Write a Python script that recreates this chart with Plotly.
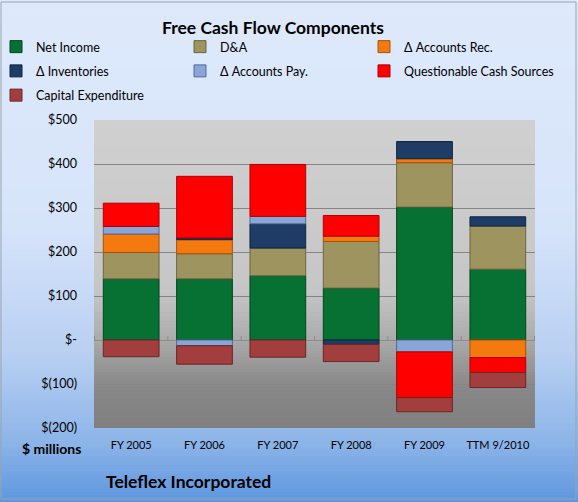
import plotly.graph_objects as go

categories = ["FY 2005", "FY 2006", "FY 2007", "FY 2008", "FY 2009", "TTM 9/2010"]
net_income = [139, 139, 146, 118, 302, 161]
d_and_a = [60, 57, 63, 106, 101, 98]
accounts_rec = [42, 32, None, 12, 9, -40]
inventories = [None, 4, 55, -10, 39, 21]
accounts_pay = [17, -13, 17, None, -27, None]
questionable = [53, 140, 118, 47, -104, -34]
capex = [-38, -42, -39, -39, -32, -34]

y_tickvals = [500, 400, 300, 200, 100, 0, -100, -200]
y_ticktext = ["$500", "$400", "$300", "$200", "$100", "$-", "$(100)", "$(200)"]

W, H = 578, 502
L, R, T, B = 94, 43, 120, 74
PW, PH = W - L - R, H - T - B

def px2x(px):
    return (px - L) / PW

def py2y(py):
    return (H - B - py) / PH

def lerp_color(stops, f):
    for i in range(len(stops) - 1):
        f0, c0 = stops[i]
        f1, c1 = stops[i + 1]
        if f0 <= f <= f1:
            t = 0 if f1 == f0 else (f - f0) / (f1 - f0)
            c = [round(c0[k] + (c1[k] - c0[k]) * t) for k in range(3)]
            return "rgb(%d,%d,%d)" % tuple(c)
    c = stops[-1][1]
    return "rgb(%d,%d,%d)" % tuple(c)

font_family = "Lato, 'Open Sans', sans-serif"

series = [
    ("Net Income", net_income, "#077033", "#03451e", "legend", 0),
    ("D&A", d_and_a, "#9d945f", "#6b6540", "legend2", 0),
    ("\u0394 Accounts Rec.", accounts_rec, "#f47a10", "#a85008", "legend3", 0),
    ("\u0394 Inventories", inventories, "#1e3c66", "#10243f", "legend", 1),
    ("\u0394 Accounts Pay.", accounts_pay, "#8aa6d8", "#4f6a99", "legend2", 1),
    ("Questionable Cash Sources", questionable, "#ff0000", "#b00000", "legend3", 1),
    ("Capital Expenditure", capex, "#a23e3e", "#6b2626", "legend", 2),
]

fig = go.Figure()
for name, vals, fill, edge, leg, rank in series:
    fig.add_trace(go.Bar(
        x=categories, y=vals, name=name,
        marker=dict(color=fill, line=dict(color=edge, width=1)),
        legend=leg, legendgroup=name, legendrank=rank,
    ))

shapes = []
# outer gradient background
outer_stops = [(0.0, (222, 233, 251)), (0.45, (214, 228, 250)), (0.7, (185, 208, 242)),
               (0.88, (140, 180, 232)), (1.0, (92, 150, 222))]
step = 3
for py in range(0, H, step):
    f = py / H
    shapes.append(dict(type="rect", xref="paper", yref="paper", layer="below",
                       x0=px2x(0), x1=px2x(W), y0=py2y(py + step + 0.5), y1=py2y(py),
                       fillcolor=lerp_color(outer_stops, f), line=dict(width=0)))
# plot area gradient
plot_stops = [(0.0, (208, 208, 208)), (0.55, (198, 198, 198)), (0.7, (172, 172, 172)),
              (0.86, (136, 136, 136)), (1.0, (127, 127, 127))]
for py in range(T, H - B, step):
    f = (py - T) / PH
    y1 = py2y(py)
    y0 = max(py2y(py + step + 0.5), 0)
    shapes.append(dict(type="rect", xref="paper", yref="paper", layer="below",
                       x0=0, x1=1, y0=y0, y1=y1,
                       fillcolor=lerp_color(plot_stops, f), line=dict(width=0)))
# outer border
shapes.append(dict(type="rect", xref="paper", yref="paper", layer="below",
                   x0=px2x(1), x1=px2x(576), y0=py2y(499), y1=py2y(2),
                   fillcolor="rgba(0,0,0,0)", line=dict(color="#9aa3ad", width=1)))
# category boundary ticks on the zero line
for i in range(len(categories) + 1):
    shapes.append(dict(type="line", xref="x", yref="y", layer="below",
                       x0=i - 0.5, x1=i - 0.5, y0=0, y1=9,
                       line=dict(color="#8c8c8c", width=1)))

legend_common = dict(xanchor="left", yanchor="top", orientation="v", tracegroupgap=5,
                     bgcolor="rgba(0,0,0,0)", font=dict(size=12.5),
                     itemclick=False, itemdoubleclick=False)

fig.update_layout(
    width=W, height=H,
    margin=dict(l=L, r=R, t=T, b=B, pad=0, autoexpand=False),
    paper_bgcolor="rgba(0,0,0,0)",
    plot_bgcolor="rgba(0,0,0,0)",
    barmode="relative",
    bargap=0.24,
    shapes=shapes,
    font=dict(family=font_family, size=12, color="#000000"),
    xaxis=dict(showgrid=False, showline=False, ticks="", tickfont=dict(size=11),
               ticklabelstandoff=9, fixedrange=True),
    yaxis=dict(range=[-200, 500], tickvals=y_tickvals, ticktext=y_ticktext,
               showgrid=True, gridcolor="#858585", gridwidth=1,
               zeroline=True, zerolinecolor="#8c8c8c", zerolinewidth=1,
               showline=False, ticks="", tickfont=dict(size=12.5),
               ticklabelstandoff=16, fixedrange=True),
    legend=dict(x=px2x(-4), y=py2y(32), **legend_common),
    legend2=dict(x=px2x(180), y=py2y(32), **legend_common),
    legend3=dict(x=px2x(364), y=py2y(32), **legend_common),
    annotations=[
        dict(text="<b>Free Cash Flow Components</b>", xref="paper", yref="paper",
             x=px2x(273), y=py2y(27), xanchor="center", yanchor="middle",
             showarrow=False, font=dict(size=17.5)),
        dict(text="<b>$ millions</b>", xref="paper", yref="paper",
             x=px2x(51), y=py2y(448), xanchor="center", yanchor="middle",
             showarrow=False, font=dict(size=14)),
        dict(text="<b>Teleflex Incorporated</b>", xref="paper", yref="paper",
             x=px2x(188), y=py2y(481), xanchor="center", yanchor="middle",
             showarrow=False, font=dict(size=17.5)),
    ],
)

fig.write_html("out.html")
